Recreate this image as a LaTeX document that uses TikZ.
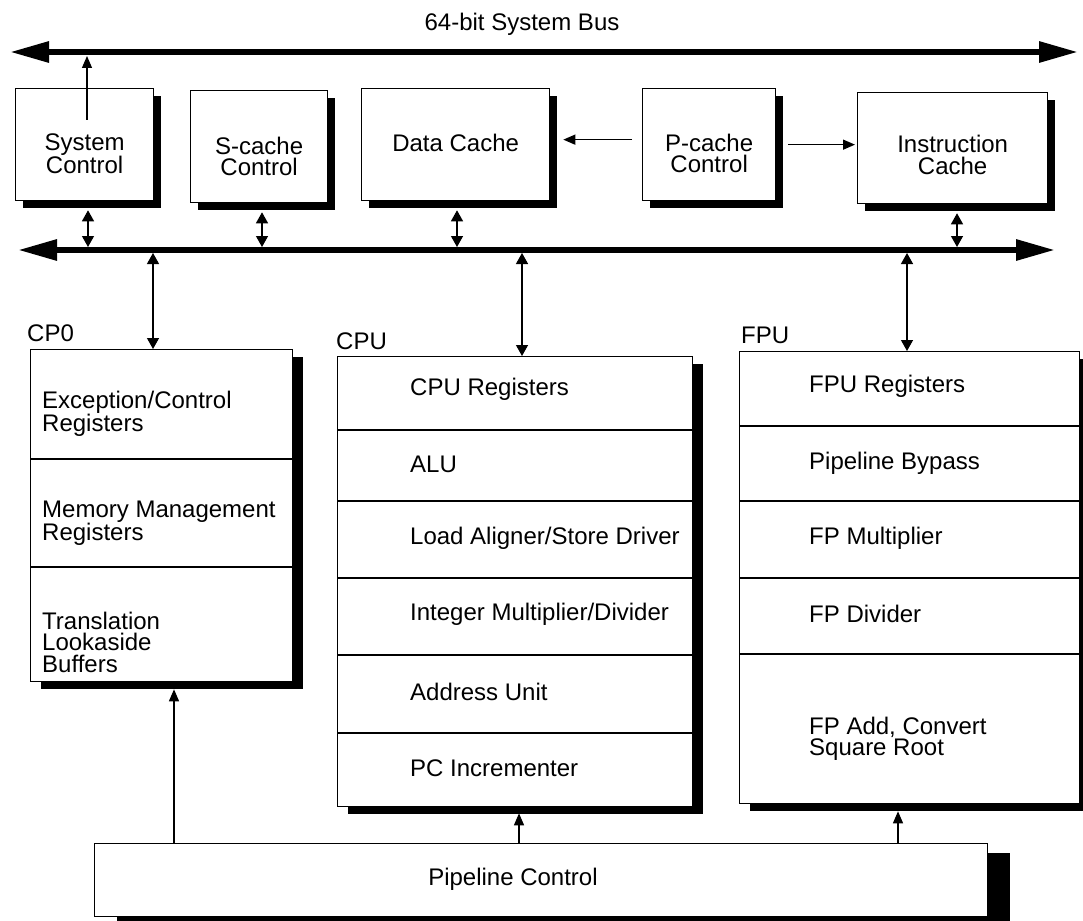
\documentclass[tikz,border=0pt]{standalone}
\usepackage{fontspec}
\setmainfont{Liberation Sans}
\usetikzlibrary{arrows.meta,shadows}
\begin{document}
\begin{tikzpicture}[x=1pt,y=-1pt,
  every node/.style={font=\fontsize{24}{21.5}\selectfont},
  box/.style={draw, line width=1.3pt, fill=white, inner sep=0pt, anchor=north west},
  shsmall/.style={general shadow={fill=black, shadow xshift=7pt, shadow yshift=-7pt}},
  shbig/.style={general shadow={fill=black, shadow xshift=10pt, shadow yshift=-7pt}},
  shpipe/.style={general shadow={fill=black, shadow xshift=22pt, shadow yshift=-9pt}},
  txt/.style={inner sep=0pt, align=center},
  unittxt/.style={inner sep=0pt, align=left, anchor=west},
  title/.style={inner sep=0pt, anchor=west},
  bus/.style={line width=6pt, {Triangle[length=39pt,width=20pt]}-{Triangle[length=39pt,width=20pt]}},
  arr/.style={line width=1.3pt, -{Triangle[length=12pt,width=10pt]}},
  dbl/.style={line width=1.3pt, {Triangle[length=11pt,width=12pt]}-{Triangle[length=11pt,width=12pt]}},
  divider/.style={line width=1.3pt}
]
\useasboundingbox (0,0) rectangle (1083,920);

% system bus and internal bus
\coordinate (b1L) at (10,52);
\coordinate (b1R) at (1078,52);
\coordinate (b2L) at (18,250);
\coordinate (b2R) at (1055,250);
\draw[bus] (b1L) -- (b1R);
\draw[bus] (b2L) -- (b2R);
\node[txt] (bustitle) at (522,24) {64-bit System Bus};

% upper row of blocks
\node[box, shsmall, minimum width=138pt, minimum height=112pt] (sysctl) at (15,88) {};
\node[box, shsmall, minimum width=137pt, minimum height=112pt] (scache) at (190,90) {};
\node[box, shsmall, minimum width=188pt, minimum height=112pt] (dcache) at (361,88) {};
\node[box, shsmall, minimum width=133pt, minimum height=112pt] (pcache) at (642,88) {};
\node[box, shsmall, minimum width=190pt, minimum height=111pt] (icache) at (857,92) {};

\node[txt] (sysctltxt) at ([yshift=-9pt]sysctl.center) {System\\Control};
\node[txt] (scachetxt) at ([yshift=-10pt]scache.center) {S-cache\\Control};
\node[txt] (dcachetxt) at ([yshift=2pt]dcache.center) {Data Cache};
\node[txt] (pcachetxt) at ([yshift=-9pt]pcache.center) {P-cache\\Control};
\node[txt] (icachetxt) at ([yshift=-7pt]icache.center) {Instruction\\Cache};

% P-cache control feeds both primary caches
\coordinate (pd) at ([yshift=5pt]pcache.west);
\draw[arr, shorten <=10pt, shorten >=13pt] (pd) -- (pd -| dcache.east);
\draw[arr, shorten <=12pt, shorten >=2pt] (pcache.east) -- (pcache.east -| icache.west);

% system control drives the system bus
\coordinate (sysup) at (87,120);
\draw[arr, shorten >=4pt] (sysup) -- (sysup |- b1L);

% upper blocks to internal bus
\coordinate (t1) at (88,250);
\coordinate (t2) at (262,250);
\coordinate (t3) at (457,250);
\coordinate (t4) at (957,250);
\draw[dbl, shorten <=9pt, shorten >=3pt] (t1 |- sysctl.south) -- (t1);
\draw[dbl, shorten <=9pt, shorten >=3pt] (t2 |- scache.south) -- (t2);
\draw[dbl, shorten <=9pt, shorten >=3pt] (t3 |- dcache.south) -- (t3);
\draw[dbl, shorten <=9pt, shorten >=3pt] (t4 |- icache.south) -- (t4);

% execution units
\node[box, shbig, minimum width=262pt, minimum height=332pt] (cp0) at (30,349) {};
\node[box, shbig, minimum width=355pt, minimum height=450pt] (cpu) at (337,356) {};
\node[box, shbig, minimum width=340pt, minimum height=452pt] (fpu) at (739,351) {};

\node[title] (cp0title) at (27,333) {CP0};
\node[title] (cputitle) at (336,341) {CPU};
\node[title] (fputitle) at (741,335) {FPU};

% CP0 sections
\draw[divider] ([yshift=-110pt]cp0.north west) -- ([yshift=-110pt]cp0.north east);
\draw[divider] ([yshift=-218pt]cp0.north west) -- ([yshift=-218pt]cp0.north east);
\node[unittxt] (cp0a) at (42,414) {Exception/Control\\Registers};
\node[unittxt] (cp0b) at (42,523) {Memory Management\\Registers};
\node[unittxt] (cp0c) at (42,642) {Translation\\Lookaside\\Buffers};

% CPU sections
\foreach \d in {74,145,222,299,377}
  \draw[divider] ([yshift=-\d pt]cpu.north west) -- ([yshift=-\d pt]cpu.north east);
\node[unittxt] (cpua) at (410,389) {CPU Registers};
\node[unittxt] (cpub) at (410,464) {ALU};
\node[unittxt] (cpuc) at (410,538) {Load Aligner/Store Driver};
\node[unittxt] (cpud) at (410,614) {Integer Multiplier/Divider};
\node[unittxt] (cpue) at (410,692) {Address Unit};
\node[unittxt] (cpuf) at (410,768) {PC Incrementer};

% FPU sections
\foreach \d in {75,150,227,303}
  \draw[divider] ([yshift=-\d pt]fpu.north west) -- ([yshift=-\d pt]fpu.north east);
\node[unittxt] (fpua) at (809,386) {FPU Registers};
\node[unittxt] (fpub) at (809,463) {Pipeline Bypass};
\node[unittxt] (fpuc) at (809,538) {FP Multiplier};
\node[unittxt] (fpud) at (809,614) {FP Divider};
\node[unittxt] (fpue) at (809,739) {FP Add, Convert\\Square Root};

% internal bus to execution units
\coordinate (u1) at (153,250);
\coordinate (u2) at (522,250);
\coordinate (u3) at (907,250);
\draw[dbl, shorten <=3pt] (u1) -- (u1 |- cp0.north);
\draw[dbl, shorten <=3pt] (u2) -- (u2 |- cpu.north);
\draw[dbl, shorten <=3pt] (u3) -- (u3 |- fpu.north);

% pipeline control
\node[box, shpipe, minimum width=893pt, minimum height=73pt] (pipe) at (94,843) {};
\node[txt] (pipetxt) at (513,879) {Pipeline Control};

\coordinate (p1) at (174,843);
\coordinate (p2) at (519,843);
\coordinate (p3) at (898,843);
\draw[arr, shorten >=7pt] (p1) -- (p1 |- cp0.south);
\draw[arr, shorten >=6pt] (p2) -- (p2 |- cpu.south);
\draw[arr, shorten >=7pt] (p3) -- (p3 |- fpu.south);
\end{tikzpicture}
\end{document}
